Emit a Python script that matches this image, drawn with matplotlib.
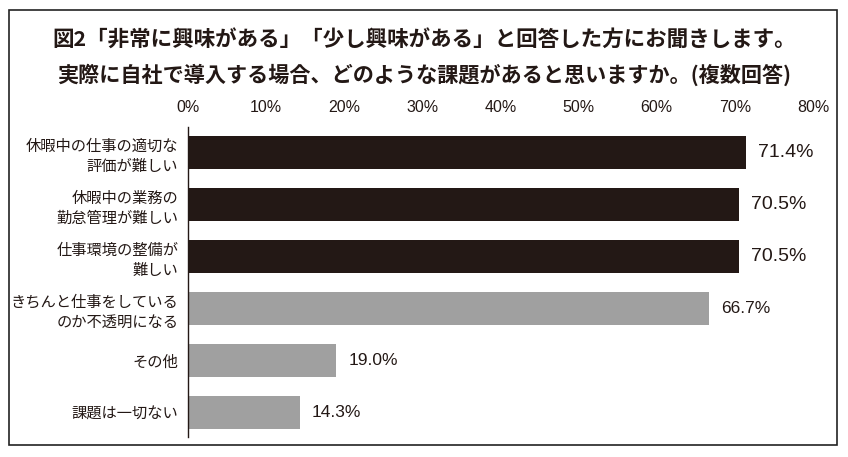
import matplotlib
matplotlib.use('Agg')
import matplotlib.pyplot as plt
from matplotlib.patches import Rectangle

plt.rcParams['font.family'] = ['Noto Sans CJK JP', 'DejaVu Sans']

# ---- data ----
categories = [
    '休暇中の仕事の適切な\n評価が難しい',
    '休暇中の業務の\n勤怠管理が難しい',
    '仕事環境の整備が\n難しい',
    'きちんと仕事をしている\nのか不透明になる',
    'その他',
    '課題は一切ない',
]
values = [71.4, 70.5, 70.5, 66.7, 19.0, 14.3]
highlight = [True, True, True, False, False, False]
xticks = [0, 10, 20, 30, 40, 50, 60, 70, 80]
title_lines = [
    '図2「非常に興味がある」「少し興味がある」と回答した方にお聞きします。',
    '実際に自社で導入する場合、どのような課題があると思いますか。(複数回答)',
]

DARK = '#231815'
GRAY = '#a0a0a0'

W, H = 848, 457
fig = plt.figure(figsize=(W / 100, H / 100), dpi=100)

# outer frame
fig.patches.append(Rectangle((9 / W, 1 - 445 / H), (837 - 9) / W, (445 - 10) / H,
                             transform=fig.transFigure, fill=False,
                             edgecolor='#222222', linewidth=1.2))

fig.text(0.5, 1 - 40 / H, title_lines[0], ha='center', va='center',
         fontsize=15.5, fontweight='bold', color='#231815')
fig.text(0.5, 1 - 75 / H, title_lines[1], ha='center', va='center',
         fontsize=15.2, fontweight='bold', color='#231815')

ax = fig.add_axes([188 / W, 1 - 437 / H, (813 - 188) / W, (437 - 127) / H])

ypos = list(range(len(categories)))
colors = [DARK if h else GRAY for h in highlight]
ax.barh(ypos, values, height=0.635, color=colors, edgecolor='none')

for y, v, h in zip(ypos, values, highlight):
    ax.text(v + 1.55, y, f'{v:.1f}%', va='center', ha='left',
            fontsize=14 if h else 12.5, family='Liberation Sans',
            color='#231815')

ax.set_xlim(0, 80)
ax.set_ylim(5.47, -0.49)
ax.set_xticks(xticks)
ax.set_xticklabels([f'{t}%' for t in xticks], family='Liberation Sans',
                   fontsize=11.5, color='#231815')
ax.xaxis.tick_top()
ax.tick_params(axis='x', length=0, pad=9)
ax.set_yticks(ypos)
ax.set_yticklabels(categories, fontsize=11, color='#231815', linespacing=1.25)
ax.tick_params(axis='y', length=0, pad=7)

for s in ['top', 'right', 'bottom']:
    ax.spines[s].set_visible(False)
ax.spines['left'].set_color('#231815')
ax.spines['left'].set_linewidth(1)

fig.savefig('out.png', dpi=100)
